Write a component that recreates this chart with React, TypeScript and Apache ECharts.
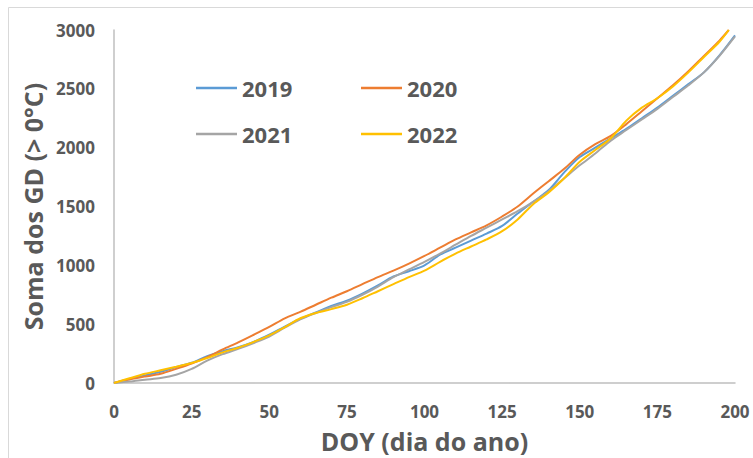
import React, { useEffect, useRef } from "react";
import * as echarts from "echarts";

const doyFull = [0,5,10,15,20,25,30,35,40,45,50,55,60,65,70,75,80,85,90,95,100,105,110,115,120,125,130,135,140,145,150,155,160,165,170,175,180,185,190,195,200];
const doyShort = [0,5,10,15,20,25,30,35,40,45,50,55,60,65,70,75,80,85,90,95,100,105,110,115,120,125,130,135,140,145,150,155,160,165,170,175,180,185,190,195,198];

const gd2019 = [0,35,65,95,135,172,228,270,305,350,410,480,545,600,655,700,760,830,905,950,1000,1090,1150,1210,1270,1335,1440,1540,1640,1790,1920,2000,2080,2160,2250,2340,2440,2540,2640,2785,2955];
const gd2020 = [0,30,55,78,120,165,220,285,345,410,477,550,605,665,725,780,840,900,955,1015,1080,1150,1220,1280,1340,1415,1500,1610,1715,1820,1940,2030,2100,2200,2310,2420,2530,2650,2780,2910,3000];
const gd2021 = [0,12,28,42,70,120,190,245,290,340,395,470,540,595,645,690,750,820,900,965,1030,1100,1175,1250,1320,1390,1460,1540,1630,1740,1850,1950,2060,2150,2240,2330,2430,2530,2640,2780,2945];
const gd2022 = [0,40,78,108,138,170,212,260,300,350,405,475,550,595,628,665,720,780,840,900,955,1030,1100,1160,1220,1290,1390,1520,1620,1740,1880,1980,2080,2230,2340,2420,2520,2640,2770,2900,3000];

const xTicks = { min: 0, max: 200, interval: 25 };
const yTicks = { min: 0, max: 3000, interval: 500 };

const FONT = "'Open Sans', 'Liberation Sans', sans-serif";
const GREY = "#595959";

export default function App() {
  const ref = useRef<HTMLDivElement>(null);
  useEffect(() => {
    if (!ref.current) return;
    const chart = echarts.init(ref.current, null, { renderer: "svg" });
    const mk = (name: string, xs: number[], ys: number[], color: string) => ({
      name,
      type: "line",
      data: xs.map((x, i) => [x, ys[i]]),
      symbol: "none",
      smooth: 0.3,
      lineStyle: { color, width: 2 },
      itemStyle: { color },
    });
    const leg = (name: string, left: number, top: number) => ({
      data: [name],
      left,
      top,
      icon: "rect",
      itemWidth: 41,
      itemHeight: 2.5,
      itemGap: 0,
      padding: 0,
      textStyle: { fontFamily: FONT, fontWeight: "bold", fontSize: 22, color: GREY, padding: [0, 0, 0, 0] },
    });
    chart.setOption({
      animation: false,
      backgroundColor: "#ffffff",
      graphic: [
        {
          type: "rect",
          shape: { x: 8.5, y: 7.5, width: 900, height: 600 },
          style: { fill: "none", stroke: "#d9d9d9", lineWidth: 1 },
          silent: true,
        },
      ],
      legend: [
        leg("2019", 196, 77),
        leg("2020", 361, 77),
        leg("2021", 196, 123),
        leg("2022", 361, 123),
      ],
      grid: { left: 114, top: 30, right: 18, bottom: 74, containLabel: false },
      xAxis: {
        type: "value",
        ...xTicks,
        name: "DOY (dia do ano)",
        nameLocation: "middle",
        nameGap: 45,
        nameTextStyle: { fontFamily: FONT, fontWeight: "bold", fontSize: 25, color: GREY },
        axisLine: { show: true, lineStyle: { color: "#bfbfbf", width: 1.5 } },
        axisTick: { show: false },
        splitLine: { show: false },
        axisLabel: { margin: 20, fontFamily: FONT, fontWeight: "bold", fontSize: 17, color: GREY },
      },
      yAxis: {
        type: "value",
        ...yTicks,
        name: "Soma dos GD (> 0°C)",
        nameLocation: "middle",
        nameGap: 68,
        nameTextStyle: { fontFamily: FONT, fontWeight: "bold", fontSize: 25, color: GREY },
        axisLine: { show: true, lineStyle: { color: "#bfbfbf", width: 1.5 } },
        axisTick: { show: false },
        splitLine: { show: false },
        axisLabel: {
          margin: 19,
          fontFamily: FONT,
          fontWeight: "bold",
          fontSize: 17,
          color: GREY,
          formatter: (v: number) => String(v),
        },
      },
      series: [
        mk("2019", doyFull, gd2019, "#5B9BD5"),
        mk("2020", doyShort, gd2020, "#ED7D31"),
        mk("2021", doyFull, gd2021, "#A5A5A5"),
        mk("2022", doyShort, gd2022, "#FFC000"),
      ],
    });
    return () => chart.dispose();
  }, []);
  return (
    <div
      ref={ref}
      style={{ position: "absolute", left: 0, top: 0, width: 753, height: 458 }}
    />
  );
}
